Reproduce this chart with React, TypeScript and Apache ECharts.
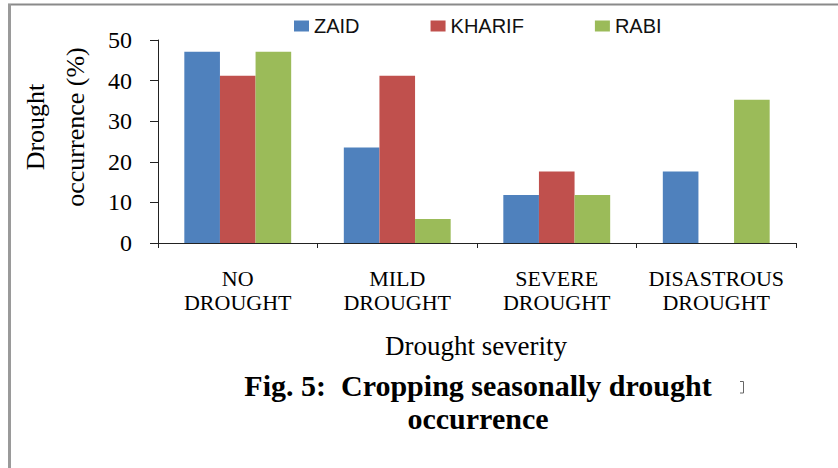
import React, { useEffect, useRef } from "react";
import * as echarts from "echarts";

const categories = ["NO\nDROUGHT", "MILD\nDROUGHT", "SEVERE\nDROUGHT", "DISASTROUS\nDROUGHT"];
const seriesNames = ["ZAID", "KHARIF", "RABI"];
const zaid = [47.1, 23.5, 11.8, 17.6];
const kharif = [41.2, 41.2, 17.6, 0];
const rabi = [47.1, 5.9, 11.8, 35.3];
const colors = ["#4F81BD", "#C0504D", "#9BBB59"];
const yTitle = "Drought\noccurrence (%)";
const xTitle = "Drought severity";
const caption = "Fig. 5:  Cropping seasonally drought\noccurrence";

const SERIF = '"Liberation Serif", "Times New Roman", serif';
const SANS = '"Liberation Sans", Arial, sans-serif';

export default function App() {
  const ref = useRef<HTMLDivElement>(null);
  useEffect(() => {
    if (!ref.current) return;
    const chart = echarts.init(ref.current, null, { renderer: "svg" });
    const values = [zaid, kharif, rabi];
    chart.setOption({
      animation: false,
      backgroundColor: "#ffffff",
      legend: {
        data: seriesNames,
        left: 289,
        top: 11,
        itemWidth: 15,
        itemHeight: 11,
        itemGap: 71,
        icon: "rect",
        textStyle: { fontFamily: SANS, fontSize: 20, color: "#111" },
      },
      grid: { left: 158, right: 42, top: 40, bottom: 225, containLabel: false },
      xAxis: {
        type: "category",
        data: categories,
        axisLine: { lineStyle: { color: "#222", width: 1 } },
        axisTick: { show: true, length: 5, alignWithLabel: false, lineStyle: { color: "#222" } },
        axisLabel: {
          interval: 0,
          margin: 23,
          fontFamily: SERIF,
          fontSize: 22,
          lineHeight: 24,
          color: "#000",
        },
      },
      yAxis: {
        type: "value",
        min: 0,
        max: 50,
        interval: 10,
        splitLine: { show: false },
        axisLine: { show: true, lineStyle: { color: "#222", width: 1 } },
        axisTick: { show: true, length: 8, lineStyle: { color: "#222" } },
        axisLabel: { margin: 26, fontFamily: SERIF, fontSize: 24, color: "#000" },
      },
      series: seriesNames.map((name, i) => ({
        name,
        type: "bar",
        data: values[i],
        barGap: "0%",
        barCategoryGap: "33%",
        itemStyle: { color: colors[i] },
      })),
      graphic: [
        {
          type: "rect",
          shape: { x: 8, y: 3.5, width: 840, height: 2 },
          style: { fill: "#8a8a8a" },
          silent: true,
        },
        {
          type: "rect",
          shape: { x: 8, y: 4, width: 3, height: 470 },
          style: { fill: "#9a9a9a" },
          silent: true,
        },
        {
          type: "polyline",
          shape: { points: [[740, 381.5], [743.5, 381.5], [743.5, 393], [740, 393]] },
          style: { stroke: "#666", fill: "none", lineWidth: 1 },
          silent: true,
        },
        {
          type: "text",
          x: 55,
          y: 127,
          rotation: Math.PI / 2,
          style: {
            text: yTitle,
            font: `26px ${SERIF}`,
            align: "center",
            verticalAlign: "middle",
            lineHeight: 40,
            fill: "#000",
          },
        },
        {
          type: "text",
          x: 476,
          y: 346,
          style: {
            text: xTitle,
            font: `27px ${SERIF}`,
            align: "center",
            verticalAlign: "middle",
            fill: "#000",
          },
        },
        {
          type: "text",
          x: 478,
          y: 402,
          style: {
            text: caption,
            font: `bold 30px ${SERIF}`,
            align: "center",
            verticalAlign: "middle",
            lineHeight: 33,
            fill: "#000",
          },
        },
      ],
    });
    return () => chart.dispose();
  }, []);
  return (
    <div
      ref={ref}
      style={{ position: "absolute", left: 0, top: 0, width: 838, height: 468 }}
    />
  );
}
